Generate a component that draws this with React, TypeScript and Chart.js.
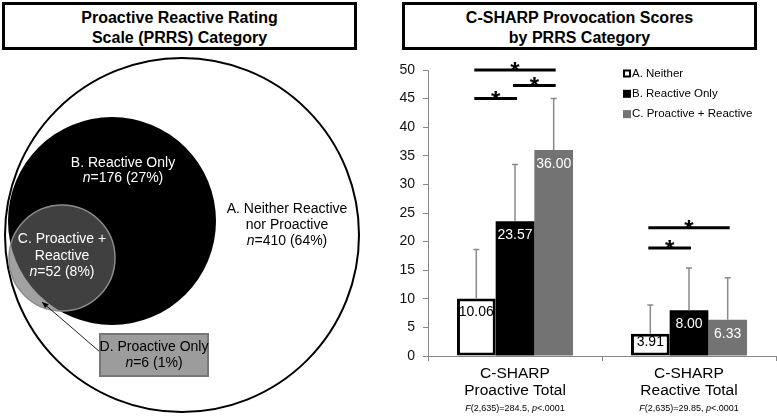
import React, { useEffect, useRef } from 'react';
import { Chart, registerables } from 'chart.js';
Chart.register(...registerables);

const FONT = '"Liberation Sans", Arial, Helvetica, sans-serif';

// ---------- Left panel data: PRRS category counts ----------
const categoryCodes = ['A', 'B', 'C', 'D'];
const categoryCounts = [410, 176, 52, 6];
const categoryPercents = [64, 27, 8, 1];

// circle diagram layout (diagram units = page pixels)
const circleX = [182, 112, 62];
const circleY = [235, 221, 258];
const circleR = [177, 104, 53];

// ---------- Right panel data: C-SHARP scores ----------
const xCategories = [['C-SHARP', 'Proactive Total'], ['C-SHARP', 'Reactive Total']];
const fStatistics = ['284.5', '29.85'];
const seriesNames = ['A. Neither', 'B. Reactive Only', 'C. Proactive + Reactive'];
const neitherMeans = [10.06, 3.91];
const reactiveOnlyMeans = [23.57, 8.0];
const proactiveReactiveMeans = [36.0, 6.33];
const neitherSD = [8.54, 4.99];
const reactiveOnlySD = [9.93, 7.4];
const proactiveReactiveSD = [9.0, 7.37];
// significance brackets: category index, from series, to series, height (score units)
const sigCategory = [0, 0, 0, 1, 1];
const sigFrom = [0, 1, 0, 0, 0];
const sigTo = [2, 2, 1, 2, 1];
const sigLevel = [50, 47.3, 45, 22.4, 18.9];

type Part = [string, boolean];

function drawRich(ctx: CanvasRenderingContext2D, parts: Part[], cx: number, cy: number, size: number, color: string) {
  const widths: number[] = [];
  let total = 0;
  parts.forEach(([t, it]) => {
    ctx.font = `${it ? 'italic ' : ''}${size}px ${FONT}`;
    const w = ctx.measureText(t).width;
    widths.push(w);
    total += w;
  });
  let x = cx - total / 2;
  ctx.fillStyle = color;
  ctx.textAlign = 'left';
  ctx.textBaseline = 'middle';
  parts.forEach(([t, it], i) => {
    ctx.font = `${it ? 'italic ' : ''}${size}px ${FONT}`;
    ctx.fillText(t, x, cy);
    x += widths[i];
  });
}

const nLine = (i: number): Part[] => [['n', true], [`=${categoryCounts[i]} (${categoryPercents[i]}%)`, false]];

const diagramLabels: { lines: Part[][]; x: number; y: number; gap: number; color: string }[] = [
  { lines: [[['A. Neither Reactive', false]], [['nor Proactive', false]], nLine(0)], x: 287, y: 209, gap: 16.3, color: '#000' },
  { lines: [[['B. Reactive Only', false]], nLine(1)], x: 123, y: 163, gap: 15.5, color: '#fff' },
  { lines: [[['C. Proactive +', false]], [['Reactive', false]], nLine(2)], x: 62, y: 239, gap: 16.8, color: '#fff' },
  { lines: [[['D. Proactive Only', false]], nLine(3)], x: 154, y: 347, gap: 16, color: '#000' },
];

const diagramPlugin = {
  id: 'diagramExtras',
  afterDatasetsDraw(chart: any) {
    const ctx: CanvasRenderingContext2D = chart.ctx;
    const xs = chart.scales.x;
    const ys = chart.scales.y;
    ctx.save();
    // D box
    const bx0 = xs.getPixelForValue(100), bx1 = xs.getPixelForValue(208);
    const by0 = ys.getPixelForValue(334), by1 = ys.getPixelForValue(376);
    // arrow
    const ax0 = xs.getPixelForValue(100), ay0 = ys.getPixelForValue(352);
    const ax1 = xs.getPixelForValue(42), ay1 = ys.getPixelForValue(302);
    ctx.strokeStyle = '#222';
    ctx.lineWidth = 1;
    ctx.beginPath();
    ctx.moveTo(ax0, ay0);
    ctx.lineTo(ax1, ay1);
    ctx.stroke();
    const ang = Math.atan2(ay1 - ay0, ax1 - ax0);
    ctx.fillStyle = '#000';
    ctx.beginPath();
    ctx.moveTo(ax1, ay1);
    ctx.lineTo(ax1 - 7 * Math.cos(ang - 0.4), ay1 - 7 * Math.sin(ang - 0.4));
    ctx.lineTo(ax1 - 7 * Math.cos(ang + 0.4), ay1 - 7 * Math.sin(ang + 0.4));
    ctx.closePath();
    ctx.fill();
    ctx.fillStyle = '#9c9c9c';
    ctx.fillRect(bx0, by0, bx1 - bx0, by1 - by0);
    ctx.strokeStyle = '#777';
    ctx.lineWidth = 2;
    ctx.strokeRect(bx0, by0, bx1 - bx0, by1 - by0);
    // labels
    diagramLabels.forEach((lab) => {
      lab.lines.forEach((parts, li) => {
        drawRich(ctx, parts, xs.getPixelForValue(lab.x), ys.getPixelForValue(lab.y + li * lab.gap), 14, lab.color);
      });
    });
    ctx.restore();
  },
};

const seriesMeans = [neitherMeans, reactiveOnlyMeans, proactiveReactiveMeans];
const seriesSD = [neitherSD, reactiveOnlySD, proactiveReactiveSD];
const seriesFill = ['#ffffff', '#000000', '#737373'];
const labelColors = ['#000', '#fff', '#fff'];

const barPlugin = {
  id: 'barExtras',
  afterDatasetsDraw(chart: any) {
    const ctx: CanvasRenderingContext2D = chart.ctx;
    const ys = chart.scales.y;
    const xs = chart.scales.x;
    const area = chart.chartArea;
    ctx.save();
    // error bars
    seriesMeans.forEach((means, di) => {
      const meta = chart.getDatasetMeta(di);
      meta.data.forEach((bar: any, i: number) => {
        const top = ys.getPixelForValue(means[i] + seriesSD[di][i]);
        ctx.strokeStyle = '#8a8a8a';
        ctx.lineWidth = 1.5;
        ctx.beginPath();
        ctx.moveTo(bar.x, bar.y);
        ctx.lineTo(bar.x, top);
        ctx.moveTo(bar.x - 3, top);
        ctx.lineTo(bar.x + 3, top);
        ctx.stroke();
        // value label
        ctx.font = `14px ${FONT}`;
        ctx.fillStyle = labelColors[di];
        ctx.textAlign = 'center';
        ctx.textBaseline = 'middle';
        const ly = Math.min(bar.y + 14, bar.base - 13);
        ctx.fillText(means[i].toFixed(2), bar.x, ly);
      });
    });
    // significance brackets
    sigCategory.forEach((c, k) => {
      const x0 = chart.getDatasetMeta(sigFrom[k]).data[c].x - 2;
      const x1 = chart.getDatasetMeta(sigTo[k]).data[c].x + 2;
      const yy = ys.getPixelForValue(sigLevel[k]);
      ctx.strokeStyle = '#000';
      ctx.lineWidth = 3;
      ctx.beginPath();
      ctx.moveTo(x0, yy);
      ctx.lineTo(x1, yy);
      ctx.stroke();
      ctx.font = `bold 24px ${FONT}`;
      ctx.fillStyle = '#000';
      ctx.textAlign = 'center';
      ctx.textBaseline = 'alphabetic';
      ctx.fillText('*', (x0 + x1) / 2, yy + 9);
    });
    // legend
    const lx = area.left + 195;
    seriesNames.forEach((name, i) => {
      const cy = area.top + 3.5 + i * 20.3;
      if (i === 0) {
        ctx.fillStyle = '#fff';
        ctx.fillRect(lx, cy - 4, 8, 8);
        ctx.strokeStyle = '#000';
        ctx.lineWidth = 2;
        ctx.strokeRect(lx + 1, cy - 3, 6, 6);
      } else {
        ctx.fillStyle = seriesFill[i];
        ctx.fillRect(lx, cy - 4, 8, 8);
      }
      ctx.font = `11.5px ${FONT}`;
      ctx.fillStyle = '#000';
      ctx.textAlign = 'left';
      ctx.textBaseline = 'middle';
      ctx.fillText(name, lx + 9, cy);
    });
    // F statistics
    fStatistics.forEach((f, i) => {
      drawRich(ctx, [['F', true], [`(2,635)=${f}, `, false], ['p', true], ['<.0001', false]], xs.getPixelForValue(i), area.bottom + 52.5, 9, '#000');
    });
    ctx.restore();
  },
};

function Diagram() {
  const ref = useRef<HTMLCanvasElement>(null);
  useEffect(() => {
    const fills = ['#ffffff', '#000000', 'rgba(103,103,103,0.62)'];
    const borders = ['#000000', '#000000', '#8c8c8c'];
    const bw = [2, 0, 1.5];
    const chart = new Chart(ref.current!, {
      type: 'bubble',
      data: {
        datasets: [
          {
            label: 'PRRS',
            data: circleX.map((x, i) => ({ x, y: circleY[i], r: circleR[i] })),
            backgroundColor: fills,
            borderColor: borders,
            borderWidth: bw,
            hoverRadius: 0,
            clip: false,
          } as any,
        ],
      },
      options: {
        animation: false,
        responsive: false,
        events: [],
        layout: { padding: 0, autoPadding: false },
        plugins: { legend: { display: false }, tooltip: { enabled: false } },
        scales: {
          x: { type: 'linear', min: 0, max: 370, display: false },
          y: { type: 'linear', min: 0, max: 416, reverse: true, display: false },
        },
      },
      plugins: [diagramPlugin],
    });
    return () => chart.destroy();
  }, []);
  return <canvas ref={ref} width={370} height={416} style={{ position: 'absolute', left: 0, top: 0, width: 370, height: 416 }} />;
}

function Bars() {
  const ref = useRef<HTMLCanvasElement>(null);
  useEffect(() => {
    const chart = new Chart(ref.current!, {
      type: 'bar',
      data: {
        labels: xCategories as any,
        datasets: seriesNames.map((name, i) => ({
          label: name,
          data: seriesMeans[i],
          backgroundColor: seriesFill[i],
          borderColor: '#000',
          borderWidth: i === 0 ? 3 : 0,
          borderSkipped: false,
          categoryPercentage: 0.667,
          barPercentage: 1.0,
        })),
      },
      options: {
        animation: false,
        responsive: false,
        events: [],
        layout: { padding: { top: 70, right: 1, left: 0, bottom: 0 } },
        plugins: { legend: { display: false }, tooltip: { enabled: false } },
        scales: {
          x: {
            grid: { drawOnChartArea: false, drawTicks: true, tickLength: 5, color: '#888', offset: true },
            border: { display: true, color: '#888', width: 1 },
            ticks: { font: { family: FONT, size: 15.5, lineHeight: 1.1 }, color: '#000', padding: 4 },
            afterFit: (s: any) => {
              s.height = 60;
            },
          },
          y: {
            min: 0,
            max: 50,
            ticks: { stepSize: 5, font: { family: FONT, size: 14 }, color: '#111', padding: 8 },
            grid: { drawOnChartArea: false, drawTicks: true, tickLength: 5, color: '#888' },
            border: { display: true, color: '#888', width: 1 },
            afterFit: (s: any) => {
              s.width = 68;
            },
          },
        },
      },
      plugins: [barPlugin],
    });
    return () => chart.destroy();
  }, []);
  return <canvas ref={ref} width={417} height={416} style={{ position: 'absolute', left: 360, top: 0, width: 417, height: 416 }} />;
}

const boxStyle: React.CSSProperties = {
  position: 'absolute',
  top: 2,
  height: 48,
  border: '3px solid #000',
  boxSizing: 'border-box',
  background: '#fff',
  fontFamily: FONT,
  fontWeight: 'bold',
  fontSize: 16,
  lineHeight: '20px',
  textAlign: 'center',
  paddingTop: 3,
  color: '#000',
};

export default function App() {
  return (
    <div style={{ position: 'fixed', left: 0, top: 0, width: 777, height: 416, background: '#fff', overflow: 'hidden' }}>
      <Diagram />
      <Bars />
      <div style={{ ...boxStyle, left: 2, width: 355 }}>
        Proactive Reactive Rating
        <br />
        Scale (PRRS) Category
      </div>
      <div style={{ ...boxStyle, left: 402, width: 355 }}>
        C-SHARP Provocation Scores
        <br />
        by PRRS Category
      </div>
    </div>
  );
}
